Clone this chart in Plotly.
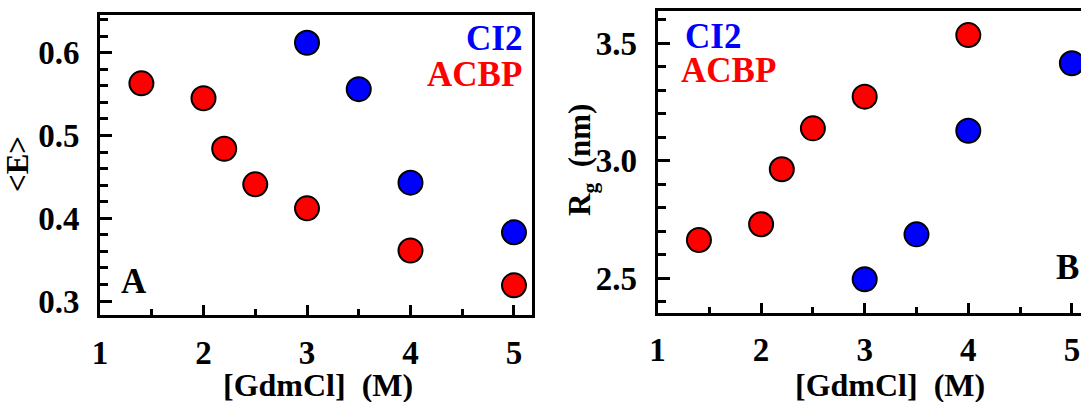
import plotly.graph_objects as go

W, H = 1081, 402

# GdmCl concentration (M) and measured quantities
acbp_conc_e = [1.4, 2.0, 2.2, 2.5, 3.0, 4.0, 5.0]
acbp_e = [0.563, 0.545, 0.484, 0.441, 0.412, 0.361, 0.319]
ci2_conc_e = [3.0, 3.5, 4.0, 5.0]
ci2_e = [0.612, 0.556, 0.443, 0.383]

acbp_conc_rg = [1.4, 2.0, 2.2, 2.5, 3.0, 4.0]
acbp_rg = [2.663, 2.730, 2.964, 3.138, 3.273, 3.535]
ci2_conc_rg = [3.0, 3.5, 4.0, 5.0]
ci2_rg = [2.496, 2.687, 3.128, 3.415]

x_ticks = [1, 2, 3, 4, 5]
e_ticks = [0.3, 0.4, 0.5, 0.6]
rg_ticks = [2.5, 3.0, 3.5]

RED = "#ff0000"
BLUE = "#0000ff"
FONT = "Liberation Serif"


def hx(p):
    return p / W


def vy(p):
    return (H - p) / H


def marker(color):
    return dict(size=24, color=color, line=dict(color="black", width=2))


def bold_labels(values, fmt):
    return ["<b>" + format(v, fmt) + "</b>" for v in values]


fig = go.Figure()
fig.add_trace(go.Scatter(x=acbp_conc_e, y=acbp_e, mode="markers", marker=marker(RED),
                         xaxis="x", yaxis="y", cliponaxis=False, showlegend=False))
fig.add_trace(go.Scatter(x=ci2_conc_e, y=ci2_e, mode="markers", marker=marker(BLUE),
                         xaxis="x", yaxis="y", cliponaxis=False, showlegend=False))
fig.add_trace(go.Scatter(x=acbp_conc_rg, y=acbp_rg, mode="markers", marker=marker(RED),
                         xaxis="x2", yaxis="y2", cliponaxis=False, showlegend=False))
fig.add_trace(go.Scatter(x=ci2_conc_rg, y=ci2_rg, mode="markers", marker=marker(BLUE),
                         xaxis="x2", yaxis="y2", cliponaxis=False, showlegend=False))


def axis_style():
    return dict(showline=True, linewidth=3, linecolor="black", ticks="inside",
                tickcolor="black", tickwidth=3, showgrid=False, zeroline=False,
                automargin=False,
                tickfont=dict(family=FONT, size=33, color="black"))


def xaxis(domain, rng, anchor):
    ax = axis_style()
    ax.update(domain=domain, range=rng, mirror=True, anchor=anchor,
              tickmode="array", tickvals=x_ticks, ticktext=bold_labels(x_ticks, "d"),
              ticklen=10, ticklabelstandoff=6,
              minor=dict(dtick=0.5, tick0=1, ticks="inside", ticklen=6,
                         tickwidth=3, tickcolor="black", showgrid=False))
    return ax


def yaxis(domain, rng, ticks, minor_step, mirror, anchor):
    ax = axis_style()
    ax.update(domain=domain, range=rng, mirror=mirror, anchor=anchor,
              tickmode="array", tickvals=ticks, ticktext=bold_labels(ticks, ".1f"),
              ticklen=12, ticklabelstandoff=11,
              minor=dict(dtick=minor_step, tick0=ticks[0], ticks="inside", ticklen=8,
                         tickwidth=3, tickcolor="black", showgrid=False))
    return ax


fig.update_layout(
    width=W, height=H, autosize=False,
    margin=dict(l=0, r=0, t=0, b=0, autoexpand=False),
    paper_bgcolor="white", plot_bgcolor="white",
    xaxis=xaxis([hx(100), hx(532)], [1.0, 5.174], "y"),
    yaxis=yaxis([vy(315.2), vy(14.8)], [0.2829, 0.6458], e_ticks, 0.02, True, "x"),
    xaxis2=xaxis([hx(657.5), 1.0], [1.0, 5.088], "y2"),
    yaxis2=yaxis([vy(312.5), vy(11.2)], [2.3545, 3.6366], rg_ticks, 0.1, False, "x2"),
)


def note(text, x, y, size, color="black", xanchor="center", angle=0):
    fig.add_annotation(text="<b>" + text + "</b>", x=hx(x), y=vy(y),
                       xref="paper", yref="paper",
                       xanchor=xanchor, yanchor="middle", showarrow=False,
                       textangle=angle, borderpad=0,
                       font=dict(family=FONT, size=size, color=color))


# axis titles
note("[GdmCl] \u00a0(M)", 318, 385, 32)
note("[GdmCl] \u00a0(M)", 890, 385, 32)
note("&lt;E&gt;", 17, 164, 31, angle=-90)
note("R<sub>g</sub> \u00a0(nm)", 582, 160, 31, angle=-90)

# series labels and panel letters
note("CI2", 523, 38, 35, BLUE, xanchor="right")
note("ACBP", 523, 74, 35, RED, xanchor="right")
note("CI2", 684, 37, 35, BLUE, xanchor="left")
note("ACBP", 680, 70, 35, RED, xanchor="left")
note("A", 120, 281, 35, xanchor="left")
note("B", 1055, 267, 35, xanchor="left")

fig.write_html("out.html")
